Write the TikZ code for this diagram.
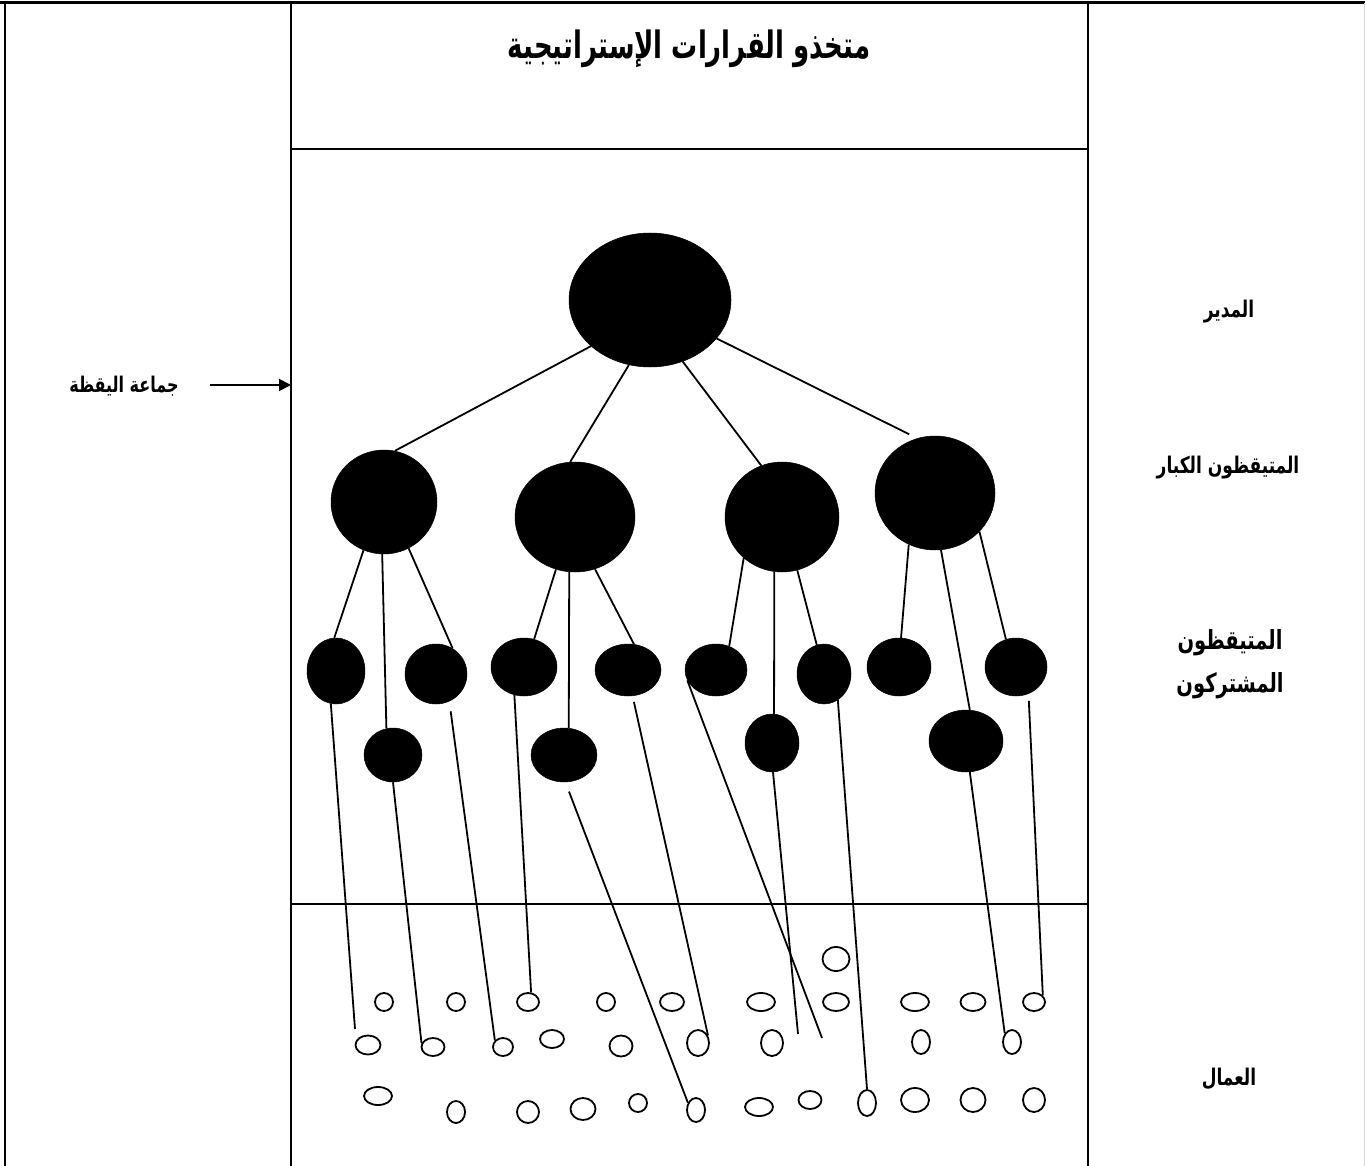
\documentclass[tikz,border=0pt]{standalone}
\usepackage{fontspec}
\usetikzlibrary{shapes.geometric,arrows.meta}
\TeXXeTstate=1
\newfontfamily\arabicfont[Script=Arabic]{DejaVu Sans}
\newcommand{\tallar}[1]{\scalebox{1}[1.35]{#1}}

\begin{document}
\begin{tikzpicture}[x=1pt,y=-1pt,
  rule/.style={line width=2.2pt},
  sz/.style 2 args={minimum width=#1pt,minimum height=#2pt},
  leader/.style={ellipse,fill=black,draw=black,line width=0.5pt,inner sep=0pt},
  worker/.style={ellipse,draw=black,line width=1.8pt,inner sep=0pt},
  link/.style={line width=1.8pt},
  lbl/.style={font=\arabicfont\bfseries,inner sep=0pt}
]
\useasboundingbox (0,0) rectangle (1365,1166);

% table rules
\draw[line width=3pt] (0,3) -- (1365,3);
\draw[rule] (5,3) -- (5,1166);
\draw[rule] (291,3) -- (291,1166);
\draw[rule] (1088,3) -- (1088,1166);
\draw[rule] (291,149) -- (1088,149);
\draw[rule] (291,904) -- (1088,904);
\draw[line width=0.8pt,black!15] (1364,3) -- (1364,1166);

% headings
\node[lbl,font=\arabicfont\bfseries\fontsize{26}{30}\selectfont] (title) at (689,49) {\scalebox{1}[1.45]{\beginR متخذو القرارات الإستراتيجية\endR}};
\node[lbl,font=\arabicfont\bfseries\fontsize{17}{20}\selectfont] (boss) at (1229,312) {\tallar{\beginR المدير\endR}};
\node[lbl,font=\arabicfont\bfseries\fontsize{17}{20}\selectfont] (senior) at (1228,468) {\tallar{\beginR المتيقظون الكبار\endR}};
\node[lbl,font=\arabicfont\bfseries\fontsize{19.5}{43}\selectfont,align=center] (partners) at (1230,664) {\tallar{\beginR المتيقظون\endR}\\\tallar{\beginR المشتركون\endR}};
\node[lbl,font=\arabicfont\bfseries\fontsize{17}{20}\selectfont] (staff) at (1229,1079) {\tallar{\beginR العمال\endR}};
\node[lbl,font=\arabicfont\bfseries\fontsize{16}{20}\selectfont] (group) at (124,386) {\tallar{\beginR جماعة اليقظة\endR}};

\coordinate (arrS) at (210,385);
\coordinate (arrE) at (291,385);
\draw[link,-{Triangle[length=12pt,width=12pt]}] (arrS) -- (arrE);

% hierarchy of leaders
\node[leader,sz={162}{134}] (top) at (650,300) {};
\node[leader,sz={106}{104}] (A1) at (384,502) {};
\node[leader,sz={120}{110}] (A2) at (575,517) {};
\node[leader,sz={114}{110}] (A3) at (782,517) {};
\node[leader,sz={120}{114}] (A4) at (935,493) {};

\node[leader,sz={58}{66}] (B1) at (336,671) {};
\node[leader,sz={58}{54}] (B2) at (393,755) {};
\node[leader,sz={62}{60}] (B3) at (436,674) {};
\node[leader,sz={66}{58}] (B4) at (524,667) {};
\node[leader,sz={66}{54}] (B5) at (564,755) {};
\node[leader,sz={66}{52}] (B6) at (628,670) {};
\node[leader,sz={62}{52}] (B7) at (716,670) {};
\node[leader,sz={54}{60}] (B8) at (824,674) {};
\node[leader,sz={54}{58}] (B9) at (772,743) {};
\node[leader,sz={64}{58}] (B10) at (899,667) {};
\node[leader,sz={74}{62}] (B11) at (966,741) {};
\node[leader,sz={62}{58}] (B12) at (1016,667) {};

% workers
\node[worker,sz={27}{24}] (w00) at (836,959) {};
\node[worker,sz={18}{18}] (w11) at (384,1002) {};
\node[worker,sz={18}{18}] (w12) at (456,1002) {};
\node[worker,sz={22}{18}] (w13) at (528,1002) {};
\node[worker,sz={18}{18}] (w14) at (606,1002) {};
\node[worker,sz={24}{18}] (w15) at (672,1002) {};
\node[worker,sz={28}{18}] (w16) at (761,1002) {};
\node[worker,sz={26}{18}] (w17) at (836,1002) {};
\node[worker,sz={28}{18}] (w18) at (915,1002) {};
\node[worker,sz={25}{18}] (w19) at (973,1002) {};
\node[worker,sz={22}{18}] (w1a) at (1034,1002) {};

\node[worker,sz={25}{19}] (w21) at (368,1045) {};
\node[worker,sz={23}{18}] (w22) at (433,1047) {};
\node[worker,sz={20}{18}] (w23) at (503,1047) {};
\node[worker,sz={24}{18}] (w24) at (552,1039) {};
\node[worker,sz={23}{21}] (w25) at (621,1046) {};
\node[worker,sz={22}{26}] (w26) at (698,1043) {};
\node[worker,sz={22}{26}] (w27) at (772,1043) {};
\node[worker,sz={18}{24}] (w28) at (921,1042) {};
\node[worker,sz={18}{24}] (w29) at (1012,1042) {};

\node[worker,sz={28}{18}] (w31) at (378,1096) {};
\node[worker,sz={18}{22}] (w32) at (456,1112) {};
\node[worker,sz={22}{22}] (w33) at (528,1112) {};
\node[worker,sz={25}{22}] (w34) at (583,1109) {};
\node[worker,sz={18}{18}] (w35) at (638,1103) {};
\node[worker,sz={18}{24}] (w36) at (696,1110) {};
\node[worker,sz={28}{18}] (w37) at (759,1107) {};
\node[worker,sz={23}{18}] (w38) at (810,1100) {};
\node[worker,sz={18}{26}] (w39) at (867,1103) {};
\node[worker,sz={28}{24}] (w3a) at (915,1100) {};
\node[worker,sz={25}{24}] (w3b) at (973,1100) {};
\node[worker,sz={22}{24}] (w3c) at (1034,1100) {};

% manager to senior watchers
\draw[link] (top.218) -- (A1.78);
\draw[link] (top.252) -- (A2.95);
\draw[link] (top.298) -- (A3.112);
\draw[link,shorten >=9pt] (top.330) -- (A4.108);

% senior to associate watchers
\draw[link] (A1.247) -- (B1.93);
\draw[link] (A1.268) -- (B2.104);
\draw[link] (A1.298) -- (B3.57);
\draw[link] (A2.250) -- (B4.70);
\draw[link] (A2.264) -- (B5.80);
\draw[link] (A2.291) -- (B6.77);
\draw[link] (A3.227) -- (B7.61);
\draw[link] (A3.262) -- (B9.86);
\draw[link] (A3.286) -- (B8.104);
\draw[link] (A4.243) -- (B10.86);
\draw[link] (A4.276) -- (B11.83);
\draw[link] (A4.319) -- (B12.110);

% associate watchers down to the workers
\coordinate (e1) at (355,1029);
\coordinate (e7) at (822,1038);
\coordinate (e8) at (798,1034);
\draw[link] (B1.261) -- (e1);
\draw[link] (B2.270) -- (w22.162);
\draw[link,shorten <=10pt] (B3.296) -- (w23.141);
\draw[link] (B4.251) -- (w13.72);
\draw[link,shorten <=10pt] (B5.273) -- (w36.138);
\draw[link,shorten <=6pt] (B6.280) -- (w26.37);
\draw[link] (B7.200) -- (e7);
\draw[link] (B9.272) -- (e8);
\draw[link] (B8.298) -- (w39.90);
\draw[link] (B11.277) -- (w29.130);
\draw[link,shorten <=7pt] (B12.295) -- (w1a.37);
\end{tikzpicture}
\end{document}
